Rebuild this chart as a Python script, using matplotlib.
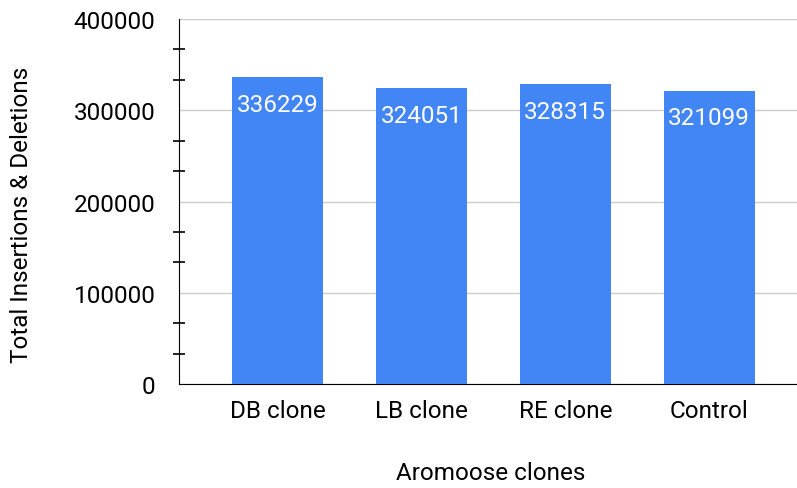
import matplotlib
matplotlib.use("Agg")
import matplotlib.pyplot as plt
from matplotlib.ticker import MultipleLocator

categories = ["DB clone", "LB clone", "RE clone", "Control"]
values = [336229, 324051, 328315, 321099]

plt.rcParams['font.family'] = ['Roboto', 'DejaVu Sans']

fig = plt.figure(figsize=(7.97, 4.89), dpi=100)
ax = fig.add_axes([179/797, 104/489, 1 - 179/797, 365/489])

x = range(len(categories))
bars = ax.bar(x, values, width=0.63, color="#4285F4", zorder=3)
for xi, v in zip(x, values):
    ax.annotate(str(v), (xi, v), xytext=(0, -27), textcoords="offset pixels",
                ha="center", va="center", color="white", fontsize=17.5, zorder=4)

ax.set_xlim(-0.684, 3.61)
ax.set_ylim(0, 400000)
ax.set_xticks(list(x))
ax.set_xticklabels(categories)
ax.yaxis.set_major_locator(MultipleLocator(100000))
ax.yaxis.set_minor_locator(MultipleLocator(100000/3))
ax.grid(axis="y", which="major", color="#cccccc", linewidth=1, zorder=0)
for s in ["top", "right"]:
    ax.spines[s].set_visible(False)
ax.spines["left"].set_color("black")
ax.spines["bottom"].set_color("black")
ax.tick_params(axis="y", which="major", length=0, pad=17, labelsize=17.5)
ax.tick_params(axis="y", which="minor", length=8, direction="inout", width=1.2)
ax.tick_params(axis="x", length=0, pad=11, labelsize=17.5)

fig.text(22/797, 1 - 215/489, "Total Insertions & Deletions", rotation=90,
         ha="center", va="center", fontsize=17.5)
fig.text(491/797, 1 - 474/489, "Aromoose clones",
         ha="center", va="center", fontsize=17.5)

fig.savefig("out.png", dpi=100)
